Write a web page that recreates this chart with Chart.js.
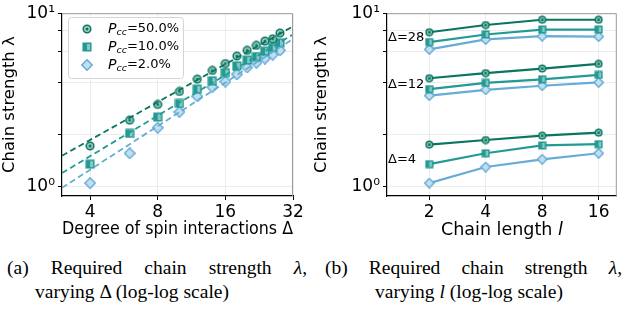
<!DOCTYPE html>
<html>
<head>
<meta charset="utf-8">
<script src="https://cdn.jsdelivr.net/npm/chart.js@4.4.1/dist/chart.umd.min.js"></script>
<style>
body { margin: 0; background: #fff; width: 624px; height: 318px; position: relative; overflow: hidden; }
canvas { position: absolute; top: 0; }
#left { left: 0; }
#right { left: 312px; }
.cap { position: absolute; font-family: "Liberation Serif", "Times New Roman", serif; font-size: 19.5px; white-space: nowrap; color: #000; line-height: 24px; }
.just { text-align: justify; text-align-last: justify; white-space: normal; }
</style>
</head>
<body>
<canvas id="left" width="312" height="240"></canvas>
<canvas id="right" width="312" height="240"></canvas>
<div class="cap just" style="left:7px;top:256px;width:300px">(a) Required chain strength <i>λ</i>,</div>
<div class="cap" style="left:35px;top:280px">varying Δ (log-log scale)</div>
<div class="cap just" style="left:325px;top:256px;width:297px">(b) Required chain strength <i>λ</i>,</div>
<div class="cap" style="left:375px;top:280px">varying <i>l</i> (log-log scale)</div>
<script>
// (a) chain strength vs degree of spin interactions, chain length 2
const deltas = [4, 6, 8, 10, 12, 14, 16, 18, 20, 22, 24, 26, 28];
const lamP50 = [1.72, 2.42, 2.98, 3.54, 4.17, 4.68, 5.13, 5.66, 6.11, 6.53, 6.91, 7.12, 7.68];
const lamP10 = [1.35, 2.03, 2.52, 3.02, 3.65, 4.08, 4.55, 4.97, 5.37, 5.63, 6.04, 6.35, 6.76];
const lamP2  = [1.05, 1.56, 2.19, 2.70, 3.32, 3.75, 4.04, 4.44, 4.87, 5.18, 5.48, 5.77, 6.11];
// dashed fit lines, value at the two ends of the axis
const fitX   = [3, 32];
const fitP50 = [1.51, 8.40];
const fitP10 = [1.20, 7.54];
const fitP2  = [0.986, 7.11];
const pccLabels = ['50.0%', '10.0%', '2.0%'];
const deltaTicks = [4, 8, 16, 32];

// (b) chain strength vs chain length
const chainLengths = [2, 4, 8, 16];
const d28P50 = [7.77, 8.55, 9.17, 9.17];
const d28P10 = [6.82, 7.54, 8.05, 8.05];
const d28P2  = [6.19, 7.06, 7.37, 7.33];
const d12P50 = [4.22, 4.52, 4.80, 5.11];
const d12P10 = [3.65, 3.97, 4.16, 4.41];
const d12P2  = [3.35, 3.62, 3.82, 3.99];
const d4P50  = [1.75, 1.86, 1.97, 2.05];
const d4P10  = [1.35, 1.56, 1.73, 1.76];
const d4P2   = [1.05, 1.30, 1.44, 1.56];
const groupNames = ['Δ=28', 'Δ=12', 'Δ=4'];
const groupLabelAt = [7.2, 3.9, 1.43];

const lamTicks = [1, 2, 4, 6, 8, 10];

const colors = ['#0a7560', '#249a95', '#66acd6'];
const fills  = ['#9fcfc3', '#86c8c4', '#c2dff0'];

Chart.defaults.font.family = '"DejaVu Sans", sans-serif';
Chart.defaults.color = '#000';
Chart.defaults.animation = false;

function makeMarker(kind, color, fill, size) {
    const c = document.createElement('canvas');
    c.width = c.height = size;
    const g = c.getContext('2d');
    const m = size / 2;
    g.lineWidth = 1.5;
    g.strokeStyle = color;
    g.fillStyle = fill;
    g.beginPath();
    if (kind == 'circle') g.arc(m, m, m - 1.2, 0, 2 * Math.PI);
    else if (kind == 'square') g.rect(1.2, 1.2, size - 2.4, size - 2.4);
    else { g.moveTo(m, 0.8); g.lineTo(size - 0.8, m); g.lineTo(m, size - 0.8); g.lineTo(0.8, m); g.closePath(); }
    g.fill();
    g.stroke();
    if (kind == 'circle') {
        g.beginPath();
        g.arc(m, m, 1.5, 0, 2 * Math.PI);
        g.fillStyle = color;
        g.fill();
    }
    if (kind == 'square') {
        g.fillStyle = color;
        g.fillRect(1.2, 1.2, (size - 2.4) / 2, size - 2.4);
    }
    return c;
}

const kinds = ['circle', 'square', 'diamond'];
const bigMarkers = kinds.map((k, i) => makeMarker(k, colors[i], fills[i], k == 'diamond' ? 12 : 10));
const smallMarkers = kinds.map((k, i) => makeMarker(k, colors[i], fills[i], k == 'diamond' ? 11 : 9));

function pts(xs, ys) {
    return xs.map((x, i) => ({ x: x, y: ys[i] }));
}

// P_cc text with italic P and subscript cc
function drawPcc(ctx, x, y, value) {
    ctx.textBaseline = 'middle';
    ctx.textAlign = 'left';
    ctx.font = 'italic 14px "DejaVu Sans"';
    ctx.fillText('P', x, y);
    x += ctx.measureText('P').width;
    ctx.font = 'italic 9.5px "DejaVu Sans"';
    ctx.fillText('cc', x, y + 4);
    x += ctx.measureText('cc').width;
    ctx.font = '13px "DejaVu Sans"';
    ctx.fillText('=' + value, x, y);
}

const legendPlugin = {
    id: 'pccLegend',
    afterDraw(chart) {
        const ctx = chart.ctx;
        ctx.save();
        ctx.fillStyle = 'rgba(255,255,255,0.85)';
        ctx.strokeStyle = '#d5d5d5';
        ctx.lineWidth = 1;
        ctx.beginPath();
        ctx.roundRect(68.5, 17.5, 115, 61, 3);
        ctx.fill();
        ctx.stroke();
        for (let i = 0; i < pccLabels.length; i++) {
            const y = 29 + i * 18;
            ctx.drawImage(bigMarkers[i], 87 - bigMarkers[i].width / 2, y - bigMarkers[i].height / 2);
            ctx.fillStyle = '#000';
            drawPcc(ctx, 108, y, pccLabels[i]);
        }
        ctx.restore();
    }
};

const framePlugin = {
    id: 'frame',
    afterDraw(chart) {
        const a = chart.chartArea;
        const ctx = chart.ctx;
        ctx.save();
        ctx.strokeStyle = '#9a9a9a';
        ctx.lineWidth = 1;
        ctx.beginPath();
        ctx.moveTo(a.left, a.top + 0.5);
        ctx.lineTo(a.right - 0.5, a.top + 0.5);
        ctx.lineTo(a.right - 0.5, a.bottom);
        ctx.stroke();
        ctx.restore();
    }
};

const groupLabelPlugin = {
    id: 'groupLabels',
    afterDatasetsDraw(chart) {
        const ctx = chart.ctx;
        const y = chart.scales.y;
        ctx.save();
        ctx.font = '13px "DejaVu Sans"';
        ctx.fillStyle = '#000';
        ctx.textAlign = 'left';
        ctx.textBaseline = 'middle';
        groupNames.forEach((t, i) => ctx.fillText(t, chart.chartArea.left + 1, y.getPixelForValue(groupLabelAt[i])));
        ctx.restore();
    }
};

const lengthTitlePlugin = {
    id: 'lengthTitle',
    afterDraw(chart) {
        const ctx = chart.ctx;
        const a = chart.chartArea;
        ctx.save();
        ctx.fillStyle = '#000';
        ctx.textBaseline = 'middle';
        ctx.textAlign = 'left';
        ctx.font = '17.5px "DejaVu Sans"';
        const w1 = ctx.measureText('Chain length ').width;
        ctx.font = 'italic 17.5px "DejaVu Sans"';
        const w2 = ctx.measureText('l').width;
        let x = (a.left + a.right) / 2 - (w1 + w2) / 2;
        ctx.font = '17.5px "DejaVu Sans"';
        ctx.fillText('Chain length ', x, 230);
        ctx.font = 'italic 17.5px "DejaVu Sans"';
        ctx.fillText('l', x + w1, 230);
        ctx.restore();
    }
};

function lamAxis(width) {
    return {
        type: 'logarithmic',
        min: 0.885,
        max: 10,
        afterBuildTicks: s => { s.ticks = lamTicks.map(v => ({ value: v })); },
        afterFit: s => { s.width = width; },
        ticks: {
            autoSkip: false,
            font: { size: 17 },
            padding: 3,
            callback: v => v == 1 ? '10\u2070' : (v == 10 ? '10\u00b9' : '')
        },
        grid: { color: '#ececec', tickColor: '#000', tickLength: 4 },
        border: { color: '#000', width: 1.2 },
        title: { display: true, text: 'Chain strength λ', font: { size: 16.5 }, padding: { top: 0, bottom: 0 } }
    };
}

function xAxis(min, max, tickList, title) {
    return {
        type: 'logarithmic',
        min: min,
        max: max,
        afterBuildTicks: s => { s.ticks = tickList.map(v => ({ value: v })); },
        afterFit: s => { s.height = 44; },
        ticks: { autoSkip: false, maxRotation: 0, font: { size: 17 }, padding: 2, callback: v => String(v) },
        grid: { color: '#ececec', tickColor: '#000', tickLength: 4 },
        border: { color: '#000', width: 1.2 },
        title: { display: title != null, text: title || '', font: { size: 17.5 }, padding: { top: 0, bottom: 0 } }
    };
}

// left chart
const leftSets = [];
[lamP50, lamP10, lamP2].forEach((ys, i) => {
    leftSets.push({
        type: 'scatter',
        data: pts(deltas, ys),
        pointStyle: bigMarkers[i],
        pointRadius: 5,
        order: 1
    });
});
[fitP50, fitP10, fitP2].forEach((ys, i) => {
    leftSets.push({
        type: 'line',
        data: pts(fitX, ys),
        borderColor: colors[i],
        borderWidth: 1.8,
        borderDash: [6, 3.5],
        pointRadius: 0,
        order: 0
    });
});

new Chart(document.getElementById('left'), {
    type: 'scatter',
    data: { datasets: leftSets },
    options: {
        responsive: false,
        layout: { padding: { top: 10, right: 19, left: 0, bottom: 0 } },
        plugins: { legend: { display: false }, tooltip: { enabled: false } },
        scales: {
            x: xAxis(3, 32, deltaTicks, 'Degree of spin interactions Δ'),
            y: lamAxis(62)
        }
    },
    plugins: [framePlugin, legendPlugin]
});

// right chart
const groups = [[d28P50, d28P10, d28P2], [d12P50, d12P10, d12P2], [d4P50, d4P10, d4P2]];
const rightSets = [];
groups.forEach(g => {
    g.forEach((ys, i) => {
        rightSets.push({
            type: 'line',
            data: pts(chainLengths, ys),
            borderColor: colors[i],
            borderWidth: 2.2,
            pointStyle: smallMarkers[i],
            pointRadius: 5,
            order: i
        });
    });
});

new Chart(document.getElementById('right'), {
    type: 'line',
    data: { datasets: rightSets },
    options: {
        responsive: false,
        layout: { padding: { top: 10, right: 4, left: 0, bottom: 0 } },
        plugins: { legend: { display: false }, tooltip: { enabled: false } },
        scales: {
            x: xAxis(1.19, 20, chainLengths, null),
            y: lamAxis(75)
        }
    },
    plugins: [framePlugin, groupLabelPlugin, lengthTitlePlugin]
});
</script>
</body>
</html>
